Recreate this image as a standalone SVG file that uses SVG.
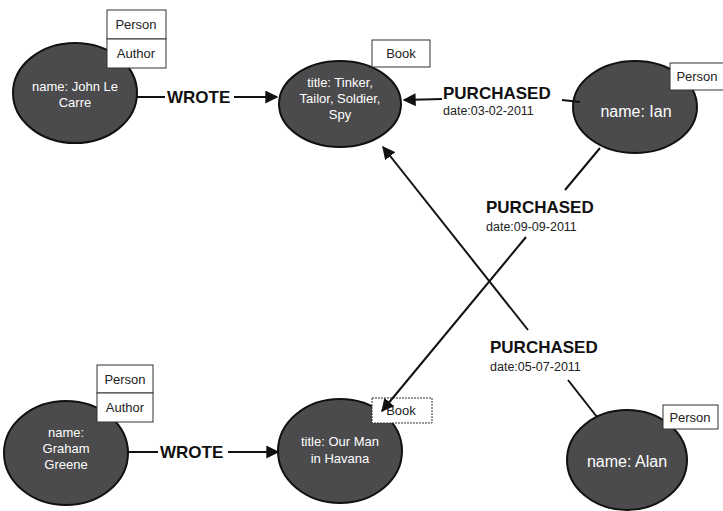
<svg xmlns="http://www.w3.org/2000/svg" width="723" height="511" viewBox="0 0 723 511">
<defs>
<style>
.node{fill:#4b4a4c;stroke:#111;stroke-width:2}
.nt{fill:#fff;font-family:"Liberation Sans",Arial,sans-serif;font-size:13px;text-anchor:middle}
.big{font-size:16px}
.lb{fill:#fff;stroke:#333;stroke-width:1}
.lt{fill:#222;font-family:"Liberation Sans",Arial,sans-serif;font-size:13px;text-anchor:middle}
.edge{stroke:#111;stroke-width:2;fill:none}
.el{fill:#111;font-family:"Liberation Sans",Arial,sans-serif;font-size:17px;font-weight:bold}
.ed{fill:#222;font-family:"Liberation Sans",Arial,sans-serif;font-size:12.5px}
</style>
<marker id="arr" viewBox="0 0 10 10" refX="9" refY="5" markerWidth="6.5" markerHeight="6.5" orient="auto" markerUnits="strokeWidth">
<path d="M0,0 L10,5 L0,10 z" fill="#111"/>
</marker>
</defs>
<rect width="723" height="511" fill="#fff"/>

<g id="john">
<ellipse class="node" cx="75" cy="93" rx="62" ry="50"/>
<text class="nt" x="75" y="91">name: John Le</text>
<text class="nt" x="75" y="107">Carre</text>
<rect class="lb" x="107" y="10" width="59" height="29"/>
<rect class="lb" x="107" y="39" width="59" height="29"/>
<text class="lt" x="136" y="29">Person</text>
<text class="lt" x="136" y="58">Author</text>
</g>

<g id="book1">
<ellipse class="node" cx="340" cy="104" rx="61" ry="43"/>
<text class="nt" x="340" y="87">title: Tinker,</text>
<text class="nt" x="340" y="103">Tailor, Soldier,</text>
<text class="nt" x="340" y="119">Spy</text>
<rect class="lb" x="372" y="40" width="58" height="27"/>
<text class="lt" x="401" y="58">Book</text>
</g>

<g id="ian">
<ellipse class="node" cx="635" cy="107" rx="62" ry="46"/>
<text class="nt big" x="636" y="117">name: Ian</text>
<rect class="lb" x="670" y="63" width="56" height="27"/>
<text class="lt" x="697" y="81">Person</text>
</g>

<g id="graham">
<ellipse class="node" cx="66" cy="453" rx="62" ry="52"/>
<text class="nt" x="66" y="437">name:</text>
<text class="nt" x="66" y="453">Graham</text>
<text class="nt" x="66" y="469">Greene</text>
<rect class="lb" x="97" y="365" width="56" height="28"/>
<rect class="lb" x="97" y="393" width="56" height="29"/>
<text class="lt" x="125" y="384">Person</text>
<text class="lt" x="125" y="412">Author</text>
</g>

<g id="book2">
<ellipse class="node" cx="340" cy="451" rx="62" ry="52"/>
<text class="nt" x="340" y="446">title: Our Man</text>
<text class="nt" x="340" y="463">in Havana</text>
<rect class="lb" x="372" y="398" width="60" height="25" stroke-dasharray="2,1"/>
<text class="lt" x="401" y="415">Book</text>
</g>

<g id="alan">
<ellipse class="node" cx="627" cy="460" rx="60" ry="50"/>
<text class="nt big" x="627" y="467">name: Alan</text>
<rect class="lb" x="663" y="405" width="55" height="24"/>
<text class="lt" x="690" y="422">Person</text>
</g>

<g id="connectors">
<line class="edge" x1="137" y1="97" x2="165" y2="97"/>
<line class="edge" x1="234" y1="97" x2="277" y2="97" marker-end="url(#arr)"/>
<text class="el" x="167" y="103">WROTE</text>

<line class="edge" x1="128" y1="452" x2="158" y2="452"/>
<line class="edge" x1="228" y1="452" x2="278" y2="452" marker-end="url(#arr)"/>
<text class="el" x="160" y="458">WROTE</text>

<line class="edge" x1="580" y1="102" x2="562" y2="100"/>
<line class="edge" x1="442" y1="99" x2="404" y2="100" marker-end="url(#arr)"/>
<text class="el" x="443" y="99">PURCHASED</text>
<text class="ed" x="443" y="115">date:03-02-2011</text>

<line class="edge" x1="600" y1="148" x2="565" y2="190"/>
<line class="edge" x1="526" y1="237" x2="382" y2="411" marker-end="url(#arr)"/>
<text class="el" x="486" y="213">PURCHASED</text>
<text class="ed" x="486" y="231">date:09-09-2011</text>

<line class="edge" x1="597" y1="417" x2="568" y2="380"/>
<line class="edge" x1="528" y1="330" x2="383" y2="147" marker-end="url(#arr)"/>
<text class="el" x="490" y="353">PURCHASED</text>
<text class="ed" x="490" y="371">date:05-07-2011</text>
</g>
</svg>
